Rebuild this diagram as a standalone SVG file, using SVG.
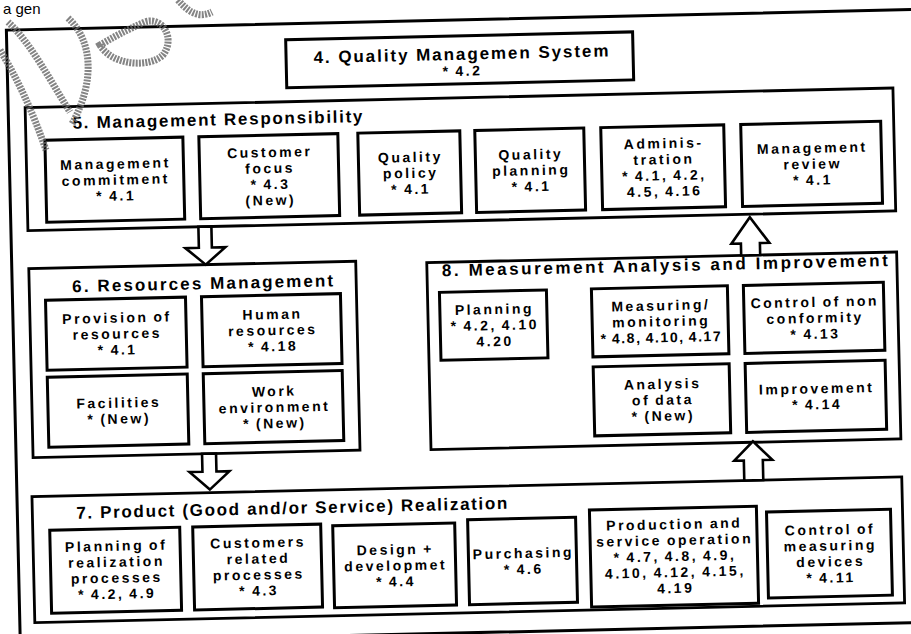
<svg xmlns="http://www.w3.org/2000/svg" width="911" height="634" viewBox="0 0 911 634">
<defs>
<style>
.frame{fill:none;stroke:#000;stroke-width:3}
.grp{fill:#fff;stroke:#000;stroke-width:2.8}
.box{fill:#fff;stroke:#000;stroke-width:3}
.arr{fill:#fff;stroke:#000;stroke-width:2.6;stroke-linejoin:miter}
text{font-family:"Liberation Sans",Arial,sans-serif;font-weight:bold;fill:#000}
.t{font-size:14px;letter-spacing:2.5px;word-spacing:-1.5px;text-anchor:middle}
.tn{letter-spacing:1.6px}
.h{font-size:17px}
.stamp{fill:none;stroke:#666;stroke-width:7;stroke-dasharray:2 1.2;opacity:.8}
</style>
</defs>
<rect width="911" height="634" fill="#fff"/>
<text x="3" y="14" style="font-weight:normal;font-size:15px">a gen</text>
<g transform="rotate(-1.3 455 317)">
<rect class="frame" x="13" y="20" width="920" height="613"/>

<g id="qms">
<rect class="box" x="292" y="36" width="347" height="48"/>
<text class="h" x="467" y="60" text-anchor="middle" textLength="295" lengthAdjust="spacing">4.  Quality Managemen System</text>
<text class="t" x="468" y="76">* 4.2</text>
</g>

<g id="mgmt-resp">
<rect class="grp" x="30" y="98" width="868" height="123"/>
<text class="h" x="77" y="120" textLength="290" lengthAdjust="spacing">5. Management Responsibility</text>
</g>
<g id="mgmt-commitment">
<rect class="box" x="49" y="131" width="138" height="82"/>
<text class="t" x="119" y="161">Management</text>
<text class="t" x="119" y="177">commitment</text>
<text class="t" x="119" y="193">* 4.1</text>
</g>
<g id="customer-focus">
<rect class="box" x="203" y="131" width="139" height="82"/>
<text class="t" x="273.5" y="153">Customer</text>
<text class="t" x="273.5" y="169">focus</text>
<text class="t" x="273.5" y="185">* 4.3</text>
<text class="t" x="273.5" y="201">(New)</text>
</g>
<g id="quality-policy">
<rect class="box" x="362" y="131" width="102" height="82"/>
<text class="t" x="414" y="161">Quality</text>
<text class="t" x="414" y="177">policy</text>
<text class="t" x="414" y="193">* 4.1</text>
</g>
<g id="quality-planning">
<rect class="box" x="479" y="131" width="109" height="82"/>
<text class="t" x="534.5" y="161">Quality</text>
<text class="t" x="534.5" y="177">planning</text>
<text class="t" x="534.5" y="193">* 4.1</text>
</g>
<g id="administration">
<rect class="box" x="605" y="131" width="123" height="82"/>
<text class="t" x="667.5" y="153">Adminis-</text>
<text class="t" x="667.5" y="169">tration</text>
<text class="t" x="667.5" y="185">* 4.1, 4.2,</text>
<text class="t" x="667.5" y="201">4.5, 4.16</text>
</g>
<g id="mgmt-review">
<rect class="box" x="745" y="131" width="140" height="82"/>
<text class="t" x="816" y="161">Management</text>
<text class="t" x="816" y="177">review</text>
<text class="t" x="816" y="193">* 4.1</text>
</g>

<g id="resources">
<rect class="grp" x="30" y="259" width="327" height="189"/>
<text class="h" x="73" y="283.5" textLength="261" lengthAdjust="spacing">6. Resources Management</text>
</g>
<g id="provision">
<rect class="box" x="46" y="291" width="140" height="70"/>
<text class="t" x="117" y="315">Provision of</text>
<text class="t" x="117" y="331">resources</text>
<text class="t" x="117" y="347">* 4.1</text>
</g>
<g id="human">
<rect class="box" x="202" y="291" width="139" height="70"/>
<text class="t" x="272.5" y="315">Human</text>
<text class="t" x="272.5" y="331">resources</text>
<text class="t" x="272.5" y="347">* 4.18</text>
</g>
<g id="facilities">
<rect class="box" x="46" y="368" width="140" height="70"/>
<text class="t" x="117" y="400">Facilities</text>
<text class="t" x="117" y="416">* (New)</text>
</g>
<g id="work-env">
<rect class="box" x="202" y="368" width="139" height="70"/>
<text class="t" x="272.5" y="392">Work</text>
<text class="t" x="272.5" y="408">environment</text>
<text class="t" x="272.5" y="424">* (New)</text>
</g>

<g id="measurement">
<rect class="grp" x="428" y="262" width="470" height="187"/>
<text class="h" x="443" y="276" textLength="446" lengthAdjust="spacing">8.  Measurement Analysis and Improvement</text>
</g>
<g id="m-planning">
<rect class="box" x="440" y="292" width="107" height="68"/>
<text class="t" x="494.5" y="315">Planning</text>
<text class="t" x="494.5" y="331">* 4.2, 4.10</text>
<text class="t" x="494.5" y="347">4.20</text>
</g>
<g id="measuring">
<rect class="box" x="592" y="292" width="136" height="68"/>
<text class="t" x="661" y="315">Measuring/</text>
<text class="t" x="661" y="331">monitoring</text>
<text class="t tn" x="661" y="347">* 4.8, 4.10, 4.17</text>
</g>
<g id="nonconformity">
<rect class="box" x="744" y="292" width="140" height="68"/>
<text class="t" x="815" y="315">Control of non</text>
<text class="t" x="815" y="331">conformity</text>
<text class="t" x="815" y="347">* 4.13</text>
</g>
<g id="analysis">
<rect class="box" x="592" y="370" width="136" height="69"/>
<text class="t" x="661" y="393.5">Analysis</text>
<text class="t" x="661" y="409.5">of data</text>
<text class="t" x="661" y="425.5">* (New)</text>
</g>
<g id="improvement">
<rect class="box" x="744" y="370" width="140" height="69"/>
<text class="t" x="815" y="401.5">Improvement</text>
<text class="t" x="815" y="417.5">* 4.14</text>
</g>

<g id="realization">
<rect class="grp" x="28" y="487" width="870" height="126"/>
<text class="h" x="72" y="510" textLength="431" lengthAdjust="spacing">7.  Product (Good and/or Service) Realization</text>
</g>
<g id="r-planning">
<rect class="box" x="45" y="521" width="130" height="83"/>
<text class="t" x="111" y="543">Planning of</text>
<text class="t" x="111" y="559">realization</text>
<text class="t" x="111" y="575">processes</text>
<text class="t" x="111" y="591">* 4.2, 4.9</text>
</g>
<g id="customers-related">
<rect class="box" x="188" y="521" width="128" height="83"/>
<text class="t" x="253" y="543">Customers</text>
<text class="t" x="253" y="559">related</text>
<text class="t" x="253" y="575">processes</text>
<text class="t" x="253" y="591">* 4.3</text>
</g>
<g id="design">
<rect class="box" x="328" y="523" width="122" height="82"/>
<text class="t" x="390" y="553">Design +</text>
<text class="t" x="390" y="569">developmet</text>
<text class="t" x="390" y="585">* 4.4</text>
</g>
<g id="purchasing">
<rect class="box" x="463" y="520" width="108" height="85"/>
<text class="t" x="518" y="559.5">Purchasing</text>
<text class="t" x="518" y="575.5">* 4.6</text>
</g>
<g id="production">
<rect class="box" x="585" y="513" width="167" height="97"/>
<text class="t" x="669.5" y="534">Production and</text>
<text class="t" x="669.5" y="550">service operation</text>
<text class="t" x="669.5" y="566">* 4.7, 4.8, 4.9,</text>
<text class="t" x="669.5" y="582">4.10, 4.12, 4.15,</text>
<text class="t" x="669.5" y="598">4.19</text>
</g>
<g id="measuring-devices">
<rect class="box" x="762" y="519" width="124" height="86"/>
<text class="t" x="825" y="543">Control of</text>
<text class="t" x="825" y="559">measuring</text>
<text class="t" x="825" y="575">devices</text>
<text class="t" x="825" y="591">* 4.11</text>
</g>

<g id="connectors">
<path class="arr" d="M200.5,221 H213.5 V242 H227 L207,259 L187,242 H200.5 Z"/>
<path class="arr" d="M199,448 H213 V466 H226 L206,484 L186,466 H199 Z"/>
<path class="arr" d="M742.5,262 V250 H733 L752,224 L771,250 H761.5 V262 Z"/>
<path class="arr" d="M740.5,487 V467 H731 L750,448 L769,467 H759.5 V487 Z"/>
</g>
</g>

<g id="stamp" class="stamp">
<path d="M8,22 C30,42 50,80 70,112"/>
<path d="M0,50 C18,80 32,110 46,150"/>
<path d="M68,18 C92,40 96,80 72,124"/>
<path d="M100,45 C112,66 150,68 163,55 C176,38 162,16 145,22 C126,30 112,38 100,45 Z"/>
<path d="M178,0 C190,14 200,18 212,12"/>
</g>
</svg>
